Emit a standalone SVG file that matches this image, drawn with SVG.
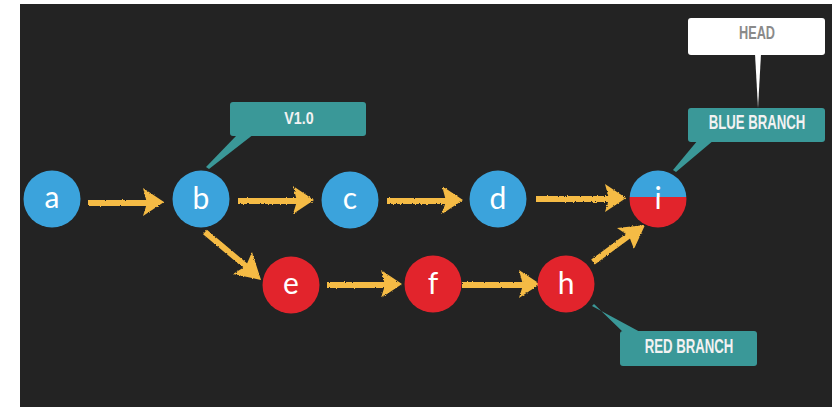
<svg xmlns="http://www.w3.org/2000/svg" width="832" height="407" viewBox="0 0 832 407">
  <defs>
    <style>
      .blue { fill: #3ba3dc; }
      .red { fill: #e2242c; }
      .node-label { font-family: Lato, "Open Sans", sans-serif; font-size: 30px; fill: #ffffff; text-anchor: middle; }
      .tag { fill: #3a9898; }
      .tag-text { font-family: "Liberation Sans", Arial, sans-serif; font-weight: bold; fill: #f2f2f2; text-anchor: middle; }
      .head-text { font-family: "Liberation Sans", Arial, sans-serif; font-weight: bold; fill: #8a8a8a; text-anchor: middle; }
      .arrow-line { stroke: #f5bb44; stroke-width: 6; fill: none; }
      .arrow-head { fill: #f5bb44; }
    </style>
    <!-- rough, chalk-like edge for the arrows -->
    <filter id="chalk" x="-10%" y="-30%" width="120%" height="160%">
      <feTurbulence type="fractalNoise" baseFrequency="0.9" numOctaves="2" seed="3" result="noise"/>
      <feDisplacementMap in="SourceGraphic" in2="noise" scale="2.5" xChannelSelector="R" yChannelSelector="G"/>
    </filter>
  </defs>

  <rect x="0" y="0" width="832" height="407" fill="#ffffff"/>
  <rect x="20" y="4" width="812" height="403" fill="#232323"/>

  <!-- connectors -->
  <g id="connectors" filter="url(#chalk)">
    <!-- a -> b -->
    <line class="arrow-line" x1="88" y1="203" x2="148" y2="203"/>
    <polygon class="arrow-head" points="164,202 143,188 147,203 143,216"/>
    <!-- b -> c -->
    <line class="arrow-line" x1="238" y1="201" x2="298" y2="201"/>
    <polygon class="arrow-head" points="314,200 293,186 297,201 293,214"/>
    <!-- c -> d -->
    <line class="arrow-line" x1="387" y1="201" x2="447" y2="201"/>
    <polygon class="arrow-head" points="463,200 442,186 446,201 442,214"/>
    <!-- d -> i -->
    <line class="arrow-line" x1="536" y1="199" x2="610" y2="199"/>
    <polygon class="arrow-head" points="626,198 605,184 609,199 605,212"/>
    <!-- b -> e -->
    <line class="arrow-line" x1="205" y1="232" x2="248" y2="268"/>
    <polygon class="arrow-head" points="261,280 233,274 246,266 252,252"/>
    <!-- e -> f -->
    <line class="arrow-line" x1="327" y1="285" x2="386" y2="285"/>
    <polygon class="arrow-head" points="402,284 381,270 385,285 381,298"/>
    <!-- f -> h -->
    <line class="arrow-line" x1="462" y1="285" x2="524" y2="285"/>
    <polygon class="arrow-head" points="540,284 519,270 523,285 519,298"/>
    <!-- h -> i -->
    <line class="arrow-line" x1="593" y1="262" x2="631" y2="234"/>
    <polygon class="arrow-head" points="645,225 634,249 629,236 617,228"/>
  </g>

  <!-- tag pointers -->
  <g id="pointers">
    <polygon class="tag" points="238,134 254,134 209,169 206,167"/>
    <polygon class="tag" points="698,140 714,140 676,172 673,170"/>
    <polygon class="tag" points="624,333 642,333 592,306 594,304"/>
    <polygon fill="#ffffff" points="755,54 761,54 758,108"/>
  </g>

  <g id="node-a">
    <circle class="blue" cx="52" cy="199" r="28.5"/>
    <text class="node-label" x="52" y="208">a</text>
  </g>
  <g id="node-b">
    <circle class="blue" cx="201" cy="199" r="28.5"/>
    <text class="node-label" x="201" y="209">b</text>
  </g>
  <g id="node-c">
    <circle class="blue" cx="350" cy="200" r="28.5"/>
    <text class="node-label" x="350" y="209">c</text>
  </g>
  <g id="node-d">
    <circle class="blue" cx="498" cy="199" r="28.5"/>
    <text class="node-label" x="498" y="209">d</text>
  </g>
  <g id="node-i">
    <clipPath id="clipI"><circle cx="658" cy="199" r="28.5"/></clipPath>
    <g clip-path="url(#clipI)">
      <rect class="blue" x="628" y="169" width="60" height="28"/>
      <rect class="red" x="628" y="197" width="60" height="32"/>
    </g>
    <text class="node-label" x="658" y="209">i</text>
  </g>
  <g id="node-e">
    <circle class="red" cx="291" cy="285" r="28.5"/>
    <text class="node-label" x="291" y="294">e</text>
  </g>
  <g id="node-f">
    <circle class="red" cx="433" cy="284" r="28.5"/>
    <text class="node-label" x="433" y="294">f</text>
  </g>
  <g id="node-h">
    <circle class="red" cx="566" cy="284" r="28.5"/>
    <text class="node-label" x="566" y="294">h</text>
  </g>

  <!-- condensed tag lettering: bold sans squeezed horizontally -->
  <g id="tag-v10">
    <rect class="tag" x="230" y="102" width="136" height="34" rx="3"/>
    <text class="tag-text" font-size="17" transform="translate(299,124) scale(0.84,1)">V1.0</text>
  </g>
  <g id="tag-head">
    <rect fill="#ffffff" x="688" y="18" width="137" height="37" rx="3"/>
    <text class="head-text" font-size="19" transform="translate(757,39) scale(0.67,1)">HEAD</text>
  </g>
  <g id="tag-blue-branch">
    <rect class="tag" x="688" y="108" width="137" height="34" rx="3"/>
    <text class="tag-text" font-size="20" transform="translate(757,129) scale(0.66,1)">BLUE BRANCH</text>
  </g>
  <g id="tag-red-branch">
    <rect class="tag" x="620" y="331" width="137" height="35" rx="3"/>
    <text class="tag-text" font-size="20" transform="translate(689,353) scale(0.66,1)">RED BRANCH</text>
  </g>
</svg>
